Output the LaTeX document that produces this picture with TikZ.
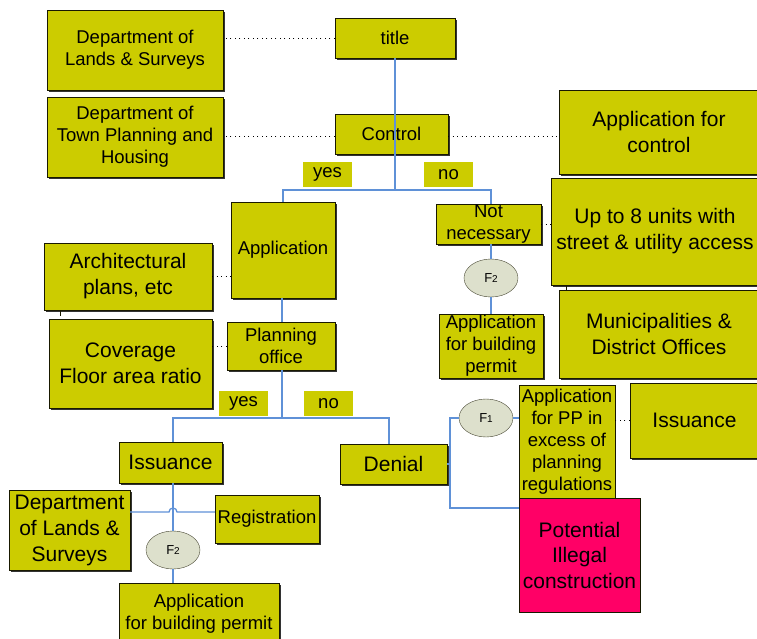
\documentclass[tikz,border=0pt]{standalone}
\usepackage{fontspec}
\setmainfont{Liberation Sans}
\usetikzlibrary{shadows, calc, shapes.geometric}
\definecolor{oliveFill}{RGB}{204,204,0}
\definecolor{alertFill}{RGB}{255,0,102}
\definecolor{ovalFill}{RGB}{221,224,204}
\definecolor{blueLine}{RGB}{95,145,215}
\definecolor{ink}{RGB}{25,25,0}
\tikzset{
  flatPanel/.style={
    draw=ink,
    fill=oliveFill,
    align=center,
    inner sep=1pt,
    font=\fontsize{18.5}{22}\selectfont
  },
  panel/.style={
    flatPanel,
    drop shadow={shadow xshift=2pt, shadow yshift=-2pt, opacity=.8, fill=black}
  },
  bigPanel/.style={panel, font=\fontsize{21}{26}\selectfont},
  answerTag/.style={
    fill=oliveFill,
    minimum width=49pt,
    minimum height=25pt,
    inner sep=0pt,
    font=\fontsize{18.5}{22}\selectfont
  },
  junction/.style={
    ellipse,
    draw=ink!80,
    fill=ovalFill,
    minimum width=54pt,
    minimum height=38pt,
    inner sep=0pt,
    font=\fontsize{13}{13}\selectfont
  },
  flowLine/.style={draw=blueLine, line width=1.3pt},
  noteLine/.style={draw=black, line width=.9pt, dash pattern=on 1pt off 3.5pt}
}
\newcommand{\fTwo}{F{\fontsize{10}{10}\selectfont 2}}

\begin{document}
\begin{tikzpicture}[x=1pt, y=-1pt]
  \useasboundingbox (0,0) rectangle (757,639);

  % left column
  \node[panel, minimum width=176pt, minimum height=80pt] (deptLands) at (135,50) {Department of\\Lands \& Surveys};
  \node[panel, minimum width=176pt, minimum height=80pt] (deptTown) at (135,137) {Department of\\Town Planning and\\Housing};
  \node[bigPanel, minimum width=168pt, minimum height=67pt] (archPlans) at (128,276.5) {Architectural\\plans, etc};
  \node[bigPanel, minimum width=163pt, minimum height=89pt] (coverage) at (130.5,363.5) {Coverage\\Floor area ratio};
  \node[bigPanel, minimum width=121pt, minimum height=80pt] (deptLandsLow) at (69.5,530) {Department\\of Lands \&\\Surveys};

  % main flow
  \node[panel, minimum width=120pt, minimum height=40pt] (titleBox) at (395,38) {title};
  \node[panel, minimum width=113pt, minimum height=40pt] (control) at (391.5,134) {Control};
  \node[answerTag] (yesTop) at (327.5,174.5) {yes};
  \node[answerTag] (noTop) at (448.5,174.5) {no};
  \node[panel, minimum width=104pt, minimum height=96pt] (application) at (283,250) {Application};
  \node[panel, minimum width=105pt, minimum height=40pt] (notNeeded) at (488.5,224) {Not\\necessary};
  \node[junction] (fTwoTop) at (491,278) {\fTwo};
  \node[panel, minimum width=104pt, minimum height=64pt] (permitRight) at (491,346) {Application\\for building\\permit};
  \node[panel, minimum width=108pt, minimum height=48pt] (planOffice) at (281,346) {Planning\\office};
  \node[answerTag] (yesLow) at (243.5,403.5) {yes};
  \node[answerTag] (noLow) at (328.5,403.5) {no};
  \node[bigPanel, minimum width=103pt, minimum height=41pt] (issueLeft) at (170.5,462.5) {Issuance};
  \node[bigPanel, minimum width=107pt, minimum height=40pt] (denial) at (393.5,464) {Denial};
  \node[panel, minimum width=104pt, minimum height=48pt] (registration) at (267,519) {Registration};
  \node[junction] (fTwoLow) at (173,550) {\fTwo};
  \node[panel, minimum width=160pt, minimum height=62pt] (permitLow) at (199,614) {Application\\for building permit};
  \node[junction] (fOne) at (486,418) {F{\fontsize{10}{10}\selectfont 1}};
  \node[flatPanel, minimum width=96pt, minimum height=113pt] (excessPP) at (567,441.5) {Application\\for PP in\\excess of\\planning\\regulations};
  \node[flatPanel, fill=alertFill, font=\fontsize{21}{25.5}\selectfont, minimum width=121pt, minimum height=114pt] (illegal) at (579.5,555) {Potential\\Illegal\\construction};

  % right column
  \node[bigPanel, minimum width=200pt, minimum height=84pt] (appControl) at (659,132) {Application for\\control};
  \node[bigPanel, minimum width=208pt, minimum height=107pt] (upToEight) at (655,231.5) {Up to 8 units with\\street \& utility access};
  \node[bigPanel, minimum width=200pt, minimum height=88pt] (municipal) at (659,334) {Municipalities \&\\District Offices};
  \node[bigPanel, minimum width=129pt, minimum height=75pt] (issueRight) at (694.5,420.5) {Issuance};

  \coordinate (splitTop) at (395,190);
  \coordinate (splitLow) at (282,418);
  \coordinate (jumpL) at (169,512);
  \coordinate (denTop) at (450,418);
  \coordinate (denBot) at (450,508);
  \coordinate (municLink) at (566,0);
  \coordinate (archTick) at (60,316);

  % blue flow
  \draw[flowLine] (titleBox.south -| splitTop) -- (control.south -| splitTop) -- (splitTop);
  \draw[flowLine] (application.north) |- (splitTop) -| (notNeeded.north -| fTwoTop);
  \draw[flowLine] (notNeeded.south -| fTwoTop) -- (fTwoTop) -- (permitRight.north -| fTwoTop);
  \draw[flowLine] (application.south -| splitLow) -- (planOffice.north -| splitLow);
  \draw[flowLine] (planOffice.south -| splitLow) -- (splitLow);
  \draw[flowLine] (issueLeft.north -| fTwoLow) |- (splitLow) -| ([xshift=-4.5pt]denial.north);
  \draw[flowLine] (issueLeft.south -| fTwoLow) -- (fTwoLow) -- (permitLow.north -| fTwoLow);
  \draw[flowLine] (deptLandsLow.east |- jumpL) -- (jumpL) arc[start angle=180, end angle=0, radius=4pt] -- (registration.west |- jumpL);
  \draw[flowLine] (denial.east) -- (denial.east -| denTop);
  \draw[flowLine] (fOne.west) -- (denTop) -- (denBot) -- (denBot -| illegal.west);
  \draw[flowLine] (fOne.east) -- (fOne.east -| excessPP.west);

  % dark ticks
  \draw[ink, line width=.8pt] (upToEight.south -| municLink) -- (municipal.north -| municLink);
  \draw[ink, line width=.8pt] (archTick |- archPlans.south) -- (archTick);

  % dotted notes
  \draw[noteLine] (titleBox.west) -- (titleBox.west -| deptLands.east);
  \draw[noteLine] ([yshift=-2pt]control.west) -- ([yshift=-2pt]control.west -| deptTown.east);
  \draw[noteLine] ([yshift=-2pt]control.east) -- ([yshift=-2pt]control.east -| appControl.west);
  \draw[noteLine] (notNeeded.east) -- (notNeeded.east -| upToEight.west);
  \draw[noteLine] (archPlans.east) -- (archPlans.east -| application.west);
  \draw[noteLine] (planOffice.west) -- (planOffice.west -| coverage.east);
  \draw[noteLine] (issueRight.west) -- (issueRight.west -| excessPP.east);
\end{tikzpicture}
\end{document}
